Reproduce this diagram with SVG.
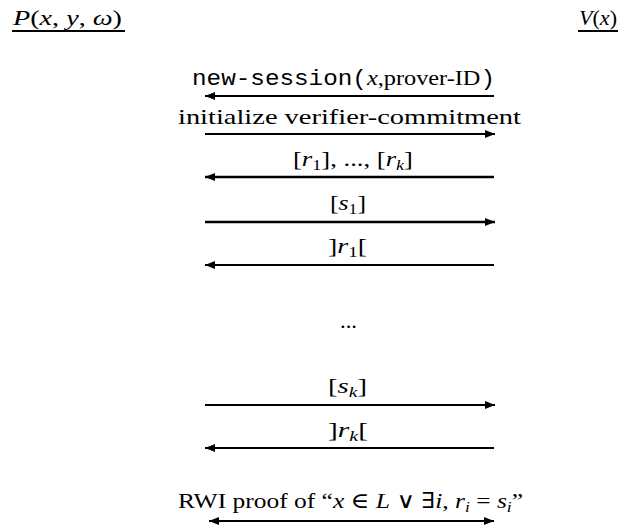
<svg xmlns="http://www.w3.org/2000/svg" width="631" height="531" viewBox="0 0 631 531">
<style>
text{font-family:"Liberation Serif","DejaVu Serif",serif;font-size:22px;fill:#000}
.i{font-style:italic}
.m{font-family:"Liberation Mono","DejaVu Sans Mono",monospace}
.s{font-size:15px}
.c line{stroke:#000;stroke-width:1.8}
.c .t{stroke-width:2.6}
</style>
<defs>
<marker id="ah" viewBox="0 0 10 8" refX="10" refY="4" markerWidth="10" markerHeight="8" markerUnits="userSpaceOnUse" orient="auto-start-reverse"><path d="M0,0 L10,4 L0,8 Z" fill="#000"/></marker>
</defs>
<g id="prover">
<text x="13" y="25" textLength="109" lengthAdjust="spacingAndGlyphs"><tspan class="i">P</tspan>(<tspan class="i">x</tspan>, <tspan class="i">y</tspan>, <tspan class="i">ω</tspan>)</text>
<line x1="12" y1="31" x2="125" y2="31" stroke="#000" stroke-width="1.8"/>
</g>
<g id="verifier">
<text x="579" y="25" textLength="38" lengthAdjust="spacingAndGlyphs"><tspan class="i">V</tspan>(<tspan class="i">x</tspan>)</text>
<line x1="578" y1="31" x2="618" y2="31" stroke="#000" stroke-width="1.8"/>
</g>
<g id="labels">
<text x="192" y="85" textLength="303" lengthAdjust="spacingAndGlyphs"><tspan class="m">new-session(</tspan><tspan class="i">x</tspan>,prover-ID<tspan class="m">)</tspan></text>
<text x="178" y="124" textLength="343" lengthAdjust="spacingAndGlyphs">initialize verifier-commitment</text>
<text x="293" y="166" textLength="120" lengthAdjust="spacingAndGlyphs">[<tspan class="i">r</tspan><tspan class="s" dy="4">1</tspan><tspan dy="-4">], ..., [</tspan><tspan class="i">r</tspan><tspan class="s i" dy="4">k</tspan><tspan dy="-4">]</tspan></text>
<text x="330" y="210" textLength="36" lengthAdjust="spacingAndGlyphs">[<tspan class="i">s</tspan><tspan class="s" dy="4">1</tspan><tspan dy="-4">]</tspan></text>
<text x="328" y="253" textLength="39" lengthAdjust="spacingAndGlyphs">]<tspan class="i">r</tspan><tspan class="s" dy="4">1</tspan><tspan dy="-4">[</tspan></text>
<text x="340" y="328" textLength="17" lengthAdjust="spacingAndGlyphs">...</text>
<text x="328" y="393" textLength="39" lengthAdjust="spacingAndGlyphs">[<tspan class="i">s</tspan><tspan class="s i" dy="4">k</tspan><tspan dy="-4">]</tspan></text>
<text x="328" y="437" textLength="40" lengthAdjust="spacingAndGlyphs">]<tspan class="i">r</tspan><tspan class="s i" dy="4">k</tspan><tspan dy="-4">[</tspan></text>
<text x="178" y="508" textLength="345" lengthAdjust="spacingAndGlyphs">RWI proof of “<tspan class="i">x</tspan> ∈ <tspan class="i">L</tspan> ∨ ∃<tspan class="i">i</tspan>, <tspan class="i">r</tspan><tspan class="s i" dy="4">i</tspan><tspan dy="-4"> = </tspan><tspan class="i">s</tspan><tspan class="s i" dy="4">i</tspan><tspan dy="-4">”</tspan></text>
</g>
<g id="connectors" class="c">
<line x1="494" y1="96" x2="205" y2="96" marker-end="url(#ah)"/>
<line x1="205" y1="134" x2="495" y2="134" marker-end="url(#ah)"/>
<line class="t" x1="494" y1="177" x2="205" y2="177" marker-end="url(#ah)"/>
<line class="t" x1="205" y1="222" x2="495" y2="222" marker-end="url(#ah)"/>
<line x1="494" y1="265" x2="205" y2="265" marker-end="url(#ah)"/>
<line x1="205" y1="405" x2="495" y2="405" marker-end="url(#ah)"/>
<line x1="494" y1="448" x2="205" y2="448" marker-end="url(#ah)"/>
<line x1="209" y1="521" x2="494" y2="521" marker-start="url(#ah)" marker-end="url(#ah)"/>
</g>
</svg>
